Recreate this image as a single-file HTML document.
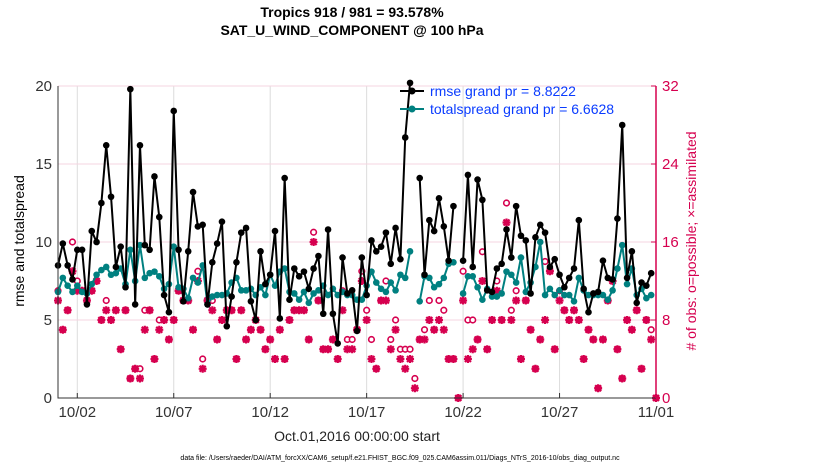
<!DOCTYPE html>
<html><head><meta charset="utf-8"><style>
body{margin:0;background:#fff;font-family:"Liberation Sans",sans-serif;}
svg text{font-family:"Liberation Sans",sans-serif;}
</style></head><body>
<svg id="c" width="830" height="470" viewBox="0 0 830 470">
<text x="352" y="17" text-anchor="middle" font-size="14" font-weight="bold">Tropics 918 / 981 = 93.578%</text>
<text x="352" y="35" text-anchor="middle" font-size="14" font-weight="bold">SAT_U_WIND_COMPONENT @ 100 hPa</text>
<text transform="translate(24,241) rotate(-90)" text-anchor="middle" font-size="14">rmse and totalspread</text>
<text transform="translate(696,241) rotate(-90)" text-anchor="middle" font-size="14" fill="#d6004f"># of obs: o=possible; ×=assimilated</text>
<text x="357" y="441" text-anchor="middle" font-size="14" fill="#222">Oct.01,2016 00:00:00 start</text>
<text x="400" y="460" text-anchor="middle" font-size="7">data file: /Users/raeder/DAI/ATM_forcXX/CAM6_setup/f.e21.FHIST_BGC.f09_025.CAM6assim.011/Diags_NTrS_2016-10/obs_diag_output.nc</text>
<g id="grid"></g><g id="marks"></g><g id="axes"></g>
<g>
<line x1="400" y1="91" x2="424" y2="91" stroke="#000" stroke-width="2"/>
<circle cx="412" cy="91" r="3.5" fill="#000"/>
<text x="430" y="96" font-size="14" fill="#0a3cff">rmse grand pr = 8.8222</text>
<line x1="400" y1="109" x2="424" y2="109" stroke="#008080" stroke-width="2"/>
<circle cx="412" cy="109" r="3.5" fill="#008080"/>
<text x="430" y="114" font-size="14" fill="#0a3cff">totalspread grand pr = 6.6628</text>
</g>
</svg>
<script>
const rmse=[8.5,9.9,8.5,7.6,9.5,9.5,6.0,10.7,10.0,12.5,16.2,12.9,8.4,9.7,7.1,19.8,6.0,16.2,9.8,9.5,14.2,11.6,6.6,5.5,18.4,9.5,6.2,9.4,
13.2,11.0,11.1,6.0,8.7,9.9,11.3,4.6,6.5,8.7,10.6,10.9,6.2,5.0,9.4,7.3,7.9,10.7,5.1,14.1,6.3,8.3,7.8,8.1,7.0,8.3,9.1,5.4,10.8,5.4,3.5,
9.0,6.7,6.9,4.3,9.0,6.6,10.1,9.4,9.7,10.6,8.6,10.9,8.9,16.7,20.2,null,14.1,7.9,11.4,10.7,12.8,11.0,8.8,12.3,null,8.8,14.3,8.4,14.0,12.7,6.9,6.8,
8.3,8.6,10.8,9.0,12.3,10.4,10.1,6.7,10.3,11.1,10.6,8.4,8.9,7.9,7.1,7.7,8.3,11.4,7.0,5.5,6.7,6.8,8.8,7.7,7.6,11.5,17.5,7.7,9.4,6.1,7.4,7.2,8.0,null];
const spread=[6.8,7.7,7.2,6.8,7.2,6.8,6.7,7.3,7.9,8.2,8.4,7.9,8.0,8.3,7.3,9.5,7.5,9.8,7.7,8.0,8.1,7.8,7.0,7.3,9.7,7.1,7.0,6.4,
7.7,7.4,8.5,6.0,6.5,6.6,6.6,6.7,7.4,7.7,6.9,6.9,7.0,6.6,7.1,6.6,7.9,7.2,8.1,8.3,6.8,6.7,6.3,6.8,6.1,6.7,6.9,7.2,6.6,7.0,6.6,
6.8,6.6,6.6,6.3,6.3,7.2,8.1,7.4,7.0,6.8,7.4,6.9,7.9,7.7,9.4,null,6.2,7.8,7.7,7.1,7.3,7.7,8.6,8.7,null,6.7,7.8,7.8,7.1,6.3,7.0,6.5,
6.5,6.7,8.1,7.9,7.4,9.0,6.8,7.4,8.4,10.0,6.6,7.0,6.6,6.9,6.6,6.6,6.2,7.7,6.9,6.6,6.6,6.6,6.6,6.3,6.9,8.3,9.8,7.3,8.3,6.6,7.0,6.4,6.6,null];
const nAssim=[10,7,9,13,11,11,10,11,12,8,9,8,9,5,9,2,3,2,7,9,4,7,8,6,8,11,10,10,
7,12,3,10,9,6,8,9,9,4,9,6,7,8,7,5,6,4,7,4,8,9,9,9,6,16,10,5,5,6,4,
9,5,5,7,12,8,4,3,10,10,5,7,4,3,4,1,6,6,8,7,8,7,4,4,0,10,4,5,6,12,5,8,
11,8,18,8,10,4,10,7,3,6,8,13,5,10,9,8,9,8,4,7,6,1,6,10,12,5,2,8,7,9,3,8,6,0];
const nPoss=[11,7,9,16,12,11,10,11,12,8,10,8,9,5,9,2,3,3,9,9,4,8,8,6,8,11,10,10,
7,13,4,10,10,6,8,9,9,4,9,6,7,8,7,5,6,4,7,4,8,9,9,9,6,17,10,5,5,6,4,
11,6,6,7,13,9,6,3,10,12,6,8,5,5,5,2,6,7,10,7,10,9,4,4,0,13,8,8,6,15,5,8,
12,8,20,9,11,4,10,7,3,6,14,13,5,11,9,8,9,8,4,7,6,1,6,10,12,5,2,8,7,9,3,8,7,0];
const xTickDays=[1,6,11,16,21,26,31];
const xTickLabels=["10/02","10/07","10/12","10/17","10/22","10/27","11/01"];
const yTicks=[0,5,10,15,20];
const yRightTicks=[0,8,16,24,32];

const L=58,R=656,T=86,B=398,PINK="#d6004f";
const xDay=d=>L+(R-L)*d/31;
const xIdx=i=>xDay(i*0.25);
const yL=v=>B-(B-T)*v/20;
const yR=v=>B-(B-T)*v/32;
const NS="http://www.w3.org/2000/svg";
function mk(tag,parent,attrs){const e=document.createElementNS(NS,tag);for(const k in attrs)e.setAttribute(k,attrs[k]);parent.appendChild(e);return e;}
const grid=document.getElementById('grid'),marks=document.getElementById('marks'),axes=document.getElementById('axes');

xTickDays.forEach((d,i)=>{
  const x=xDay(d);
  const g=mk('line',grid,{x1:x,x2:x,y1:T,y2:B,stroke:"#dcdcdc","stroke-width":1});
  
  
  const t=mk('line',axes,{x1:x,x2:x,y1:B,y2:B-5,stroke:"#333"});
  
  
  const tx=mk('text',axes,{x:x,y:B+19,"text-anchor":"middle","font-size":15,fill:"#333"});
  tx.textContent=xTickLabels[i];
  
  
});
yTicks.forEach(v=>{
  const y=yL(v);
  const g=mk('line',grid,{x1:L,x2:R,y1:y,y2:y,stroke:"#f5d5e0","stroke-width":1});
  
  
  const t=mk('text',axes,{x:L-6,y:y+5,"text-anchor":"end","font-size":15,fill:"#333"});
  t.textContent=v;
  
  
});
yRightTicks.forEach(v=>{
  const y=yR(v);
  const tk=mk('line',axes,{x1:R,x2:R-5,y1:y,y2:y,stroke:PINK});
  
  
  const t=mk('text',axes,{x:R+6,y:y+5,"font-size":15,fill:PINK});
  t.textContent=v;
  
  
});
const ax=mk('path',axes,{d:`M${L},${T}V${B}H${R}`,stroke:"#333",fill:"none","stroke-width":1});


const ar=mk('line',axes,{x1:R,x2:R,y1:T,y2:B,stroke:PINK,"stroke-width":1.5});



nPoss.forEach((v,i)=>{
  const c=mk('circle',marks,{cx:xIdx(i),cy:yR(v),r:2.8,fill:"#fff",stroke:PINK,"stroke-width":1.6});
  
  
});
nAssim.forEach((v,i)=>{
  const x=xIdx(i),y=yR(v),s=4;
  const p=mk('path',marks,{d:`M${x-s},${y}H${x+s}M${x},${y-s}V${y+s}M${x-3},${y-3}L${x+3},${y+3}M${x-3},${y+3}L${x+3},${y-3}`,stroke:PINK,"stroke-width":2.2});
  
  
});
function series(arr,color,name){
  let d="",pen=false;
  arr.forEach((v,i)=>{if(v==null){pen=false;return;}d+=(pen?"L":"M")+xIdx(i)+","+yL(v);pen=true;});
  const p=mk('path',marks,{d:d,stroke:color,"stroke-width":2,fill:"none"});
  
  
  arr.forEach((v,i)=>{if(v==null)return;
    const c=mk('circle',marks,{cx:xIdx(i),cy:yL(v),r:3.3,fill:color});
    
    
  });
}
series(spread,"#008080","totalspread");
series(rmse,"#000","rmse");
</script>
</body></html>
